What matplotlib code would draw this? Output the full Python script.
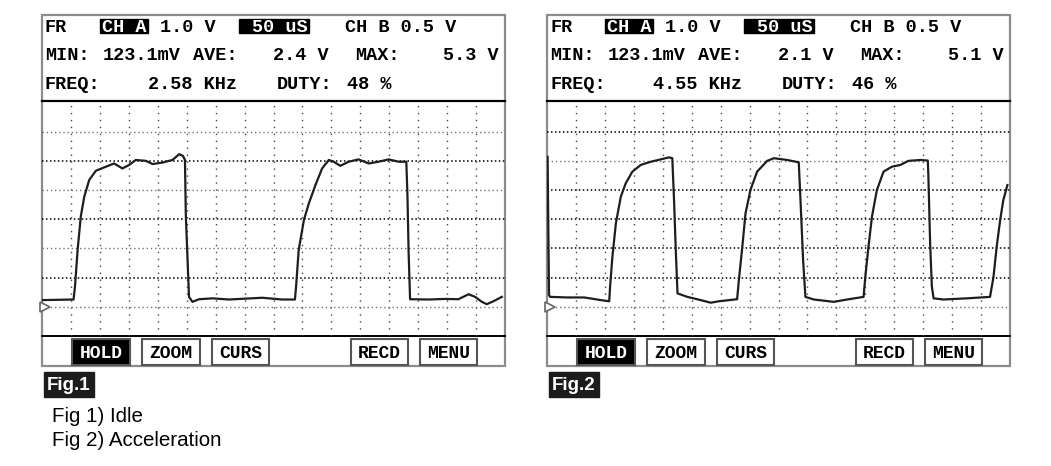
import matplotlib
matplotlib.use("Agg")
import matplotlib.pyplot as plt
from matplotlib.patches import Rectangle

# trace samples: time in divisions (50 uS/div), volts (1.0 V/div)
fig1_t = [0.02, 1.09, 1.14, 1.23, 1.34, 1.46, 1.63, 1.86, 2.21, 2.49, 2.78, 3.01, 3.24, 3.59,
          3.82, 4.16, 4.51, 4.74, 4.87, 4.94, 4.97, 5.08, 5.20, 5.43, 5.89, 6.46, 7.61, 8.30,
          8.74, 8.78, 8.87, 9.05, 9.22, 9.45, 9.68, 9.91, 10.08, 10.31, 10.60, 10.94, 11.29,
          11.63, 11.98, 12.32, 12.59, 12.63, 12.67, 12.72, 13.36, 13.93, 14.39, 14.74, 14.97,
          15.20, 15.37, 15.60, 15.89]
fig1_v = [0.23, 0.25, 0.69, 1.94, 3.09, 3.77, 4.34, 4.66, 4.80, 4.91, 4.74, 4.86, 5.03, 5.00,
          4.89, 4.94, 5.03, 5.23, 5.17, 5.03, 3.14, 0.34, 0.17, 0.26, 0.29, 0.25, 0.31, 0.25,
          0.25, 0.69, 1.94, 2.97, 3.54, 4.17, 4.74, 5.03, 4.97, 4.83, 4.97, 5.05, 4.91,
          4.97, 5.05, 4.97, 4.97, 3.77, 1.83, 0.26, 0.25, 0.27, 0.26, 0.43, 0.34,
          0.17, 0.09, 0.19, 0.34]

fig2_t = [0.02, 0.07, 0.11, 0.71, 1.29, 1.86, 2.15, 2.18, 2.26, 2.38, 2.55, 2.72, 2.95, 3.24,
          3.59, 3.93, 4.22, 4.33, 4.39, 4.45, 4.51, 4.85, 5.31, 5.66, 5.94, 6.57, 6.63, 6.75,
          6.86, 7.03, 7.26, 7.61, 7.84, 8.30, 8.70, 8.76, 8.85, 8.93, 9.22, 9.91, 10.37, 10.94,
          11.00, 11.11, 11.23, 11.40, 11.63, 11.92, 12.21, 12.49, 12.90, 13.16, 13.18, 13.24,
          13.30, 13.36, 13.70, 14.51, 15.31, 15.43, 15.54, 15.66, 15.77, 15.91]
fig2_v = [5.14, 0.40, 0.34, 0.32, 0.32, 0.23, 0.19, 0.69, 1.71, 2.86, 3.77, 4.23, 4.63, 4.86,
          4.97, 5.05, 5.12, 5.09, 3.66, 1.94, 0.46, 0.34, 0.23, 0.14, 0.19, 0.26, 0.91, 2.06,
          3.20, 4.00, 4.63, 5.00, 5.09, 5.03, 4.95, 3.66, 1.60, 0.34, 0.25, 0.17, 0.25, 0.34,
          1.03, 2.06, 3.09, 4.00, 4.63, 4.80, 4.86, 5.00, 5.03, 5.01, 4.46, 2.17,
          0.69, 0.29, 0.25, 0.29, 0.34, 1.03, 2.06, 2.97, 3.66, 4.17]

fig_labels = ["Fig.1", "Fig.2"]
ave_values = ["2.4 V", "2.1 V"]
max_values = ["5.3 V", "5.1 V"]
freq_values = ["2.58 KHz", "4.55 KHz"]
duty_values = ["48 %", "46 %"]
marked_rows = [[6, 4, 2, 0], [5, 0]]
buttons = ["HOLD", "ZOOM", "CURS", "RECD", "MENU"]
captions = ["Fig 1) Idle", "Fig 2) Acceleration"]

W, H = 1051, 466
MONO = "Liberation Mono"

fig = plt.figure(figsize=(W / 100, H / 100), dpi=100)
fig.patch.set_facecolor("white")

# overlay axes in pixel coordinates for the scope frame and labels
ov = fig.add_axes([0, 0, 1, 1])
ov.set_xlim(0, W)
ov.set_ylim(H, 0)
ov.axis("off")


def draw_panel(i, t, v, ave, vmax, freq, duty, label, marked):
    dx = 505 * i
    x0, x1 = 42 + dx, 505 + dx

    # frame, header divider, bottom of plot area
    ov.add_patch(Rectangle((x0, 15), x1 - x0, 351, fill=False, ec="#8c8c8c", lw=1.6))
    ov.plot([x0, x1], [101, 101], color="black", lw=1.6)
    ov.plot([x0, x1], [336, 336], color="black", lw=1.4)

    # header text
    ov.add_patch(Rectangle((100 + dx, 18.5), 48, 14.5, color="black"))
    ov.add_patch(Rectangle((239 + dx, 18.5), 70, 14.5, color="black"))
    rows = [
        [(45, "FR", "black"), (102, "CH A", "white"), (160, "1.0 V", "black"),
         (252, "50 uS", "white"), (345, "CH B 0.5 V", "black")],
        [(45, "MIN:", "black"), (103, "123.1mV", "black"), (193, "AVE:", "black"),
         (273, ave, "black"), (355, "MAX:", "black"), (443, vmax, "black")],
        [(45, "FREQ:", "black"), (148, freq, "black"), (277, "DUTY:", "black"),
         (347, duty, "black")],
    ]
    for base, row in zip([31.5, 60, 89], rows):
        for x, s, c in row:
            ov.text(x + dx, base, s, family=MONO, weight="bold", fontsize=13.3,
                    color=c, va="baseline", ha="left")

    # soft-key bar
    for (bx0, bx1), name in zip([(72, 130), (142, 200), (212, 269), (351, 408), (420, 477)],
                                buttons):
        filled = name == "HOLD"
        ov.add_patch(Rectangle((bx0 + dx, 339), bx1 - bx0, 26,
                               fc="black" if filled else "white", ec="#555555", lw=1.5))
        ov.text((bx0 + bx1) / 2 + dx, 358, name, family=MONO, weight="bold", fontsize=13,
                color="white" if filled else "black", ha="center", va="baseline")

    # figure tag
    ov.add_patch(Rectangle((44 + dx, 372), 50, 25, color="#1c1c1c"))
    ov.text(69 + dx, 385, label, family="Liberation Sans", weight="bold", fontsize=13.5,
            color="white", ha="center", va="center")

    # trace area: 16 x 8 divisions, ground one division above the bottom
    ax = fig.add_axes([x0 / W, (H - 336) / H, (x1 - x0) / W, (336 - 101) / H])
    ax.set_facecolor("none")
    ax.set_xlim(0, 16)
    ax.set_ylim(-1, 7.05)
    ax.axis("off")
    for gx in range(1, 16):
        ax.axvline(gx, color="#444444", lw=1.0, ls=(0, (1, 4)))
    for gy in range(0, 7):
        if gy in marked:
            ax.axhline(gy, color="#777777", lw=1.0, ls=(0, (1, 2)))
        else:
            ax.axhline(gy, color="black", lw=1.1, ls=(0, (1, 1.6)))
    ax.plot([0.12], [0], marker=">", ms=7, mfc="white", mec="#666666", mew=1.2,
            clip_on=False)
    ax.plot(t, v, color="#1e1e1e", lw=1.6)


draw_panel(0, fig1_t, fig1_v, ave_values[0], max_values[0], freq_values[0],
           duty_values[0], fig_labels[0], marked_rows[0])
draw_panel(1, fig2_t, fig2_v, ave_values[1], max_values[1], freq_values[1],
           duty_values[1], fig_labels[1], marked_rows[1])

for y, s in zip([416, 440], captions):
    ov.text(52, y, s, family="Liberation Sans", fontsize=14.8, color="black",
            ha="left", va="center")

plt.savefig("out.png", dpi=100, facecolor="white")
plt.close()
